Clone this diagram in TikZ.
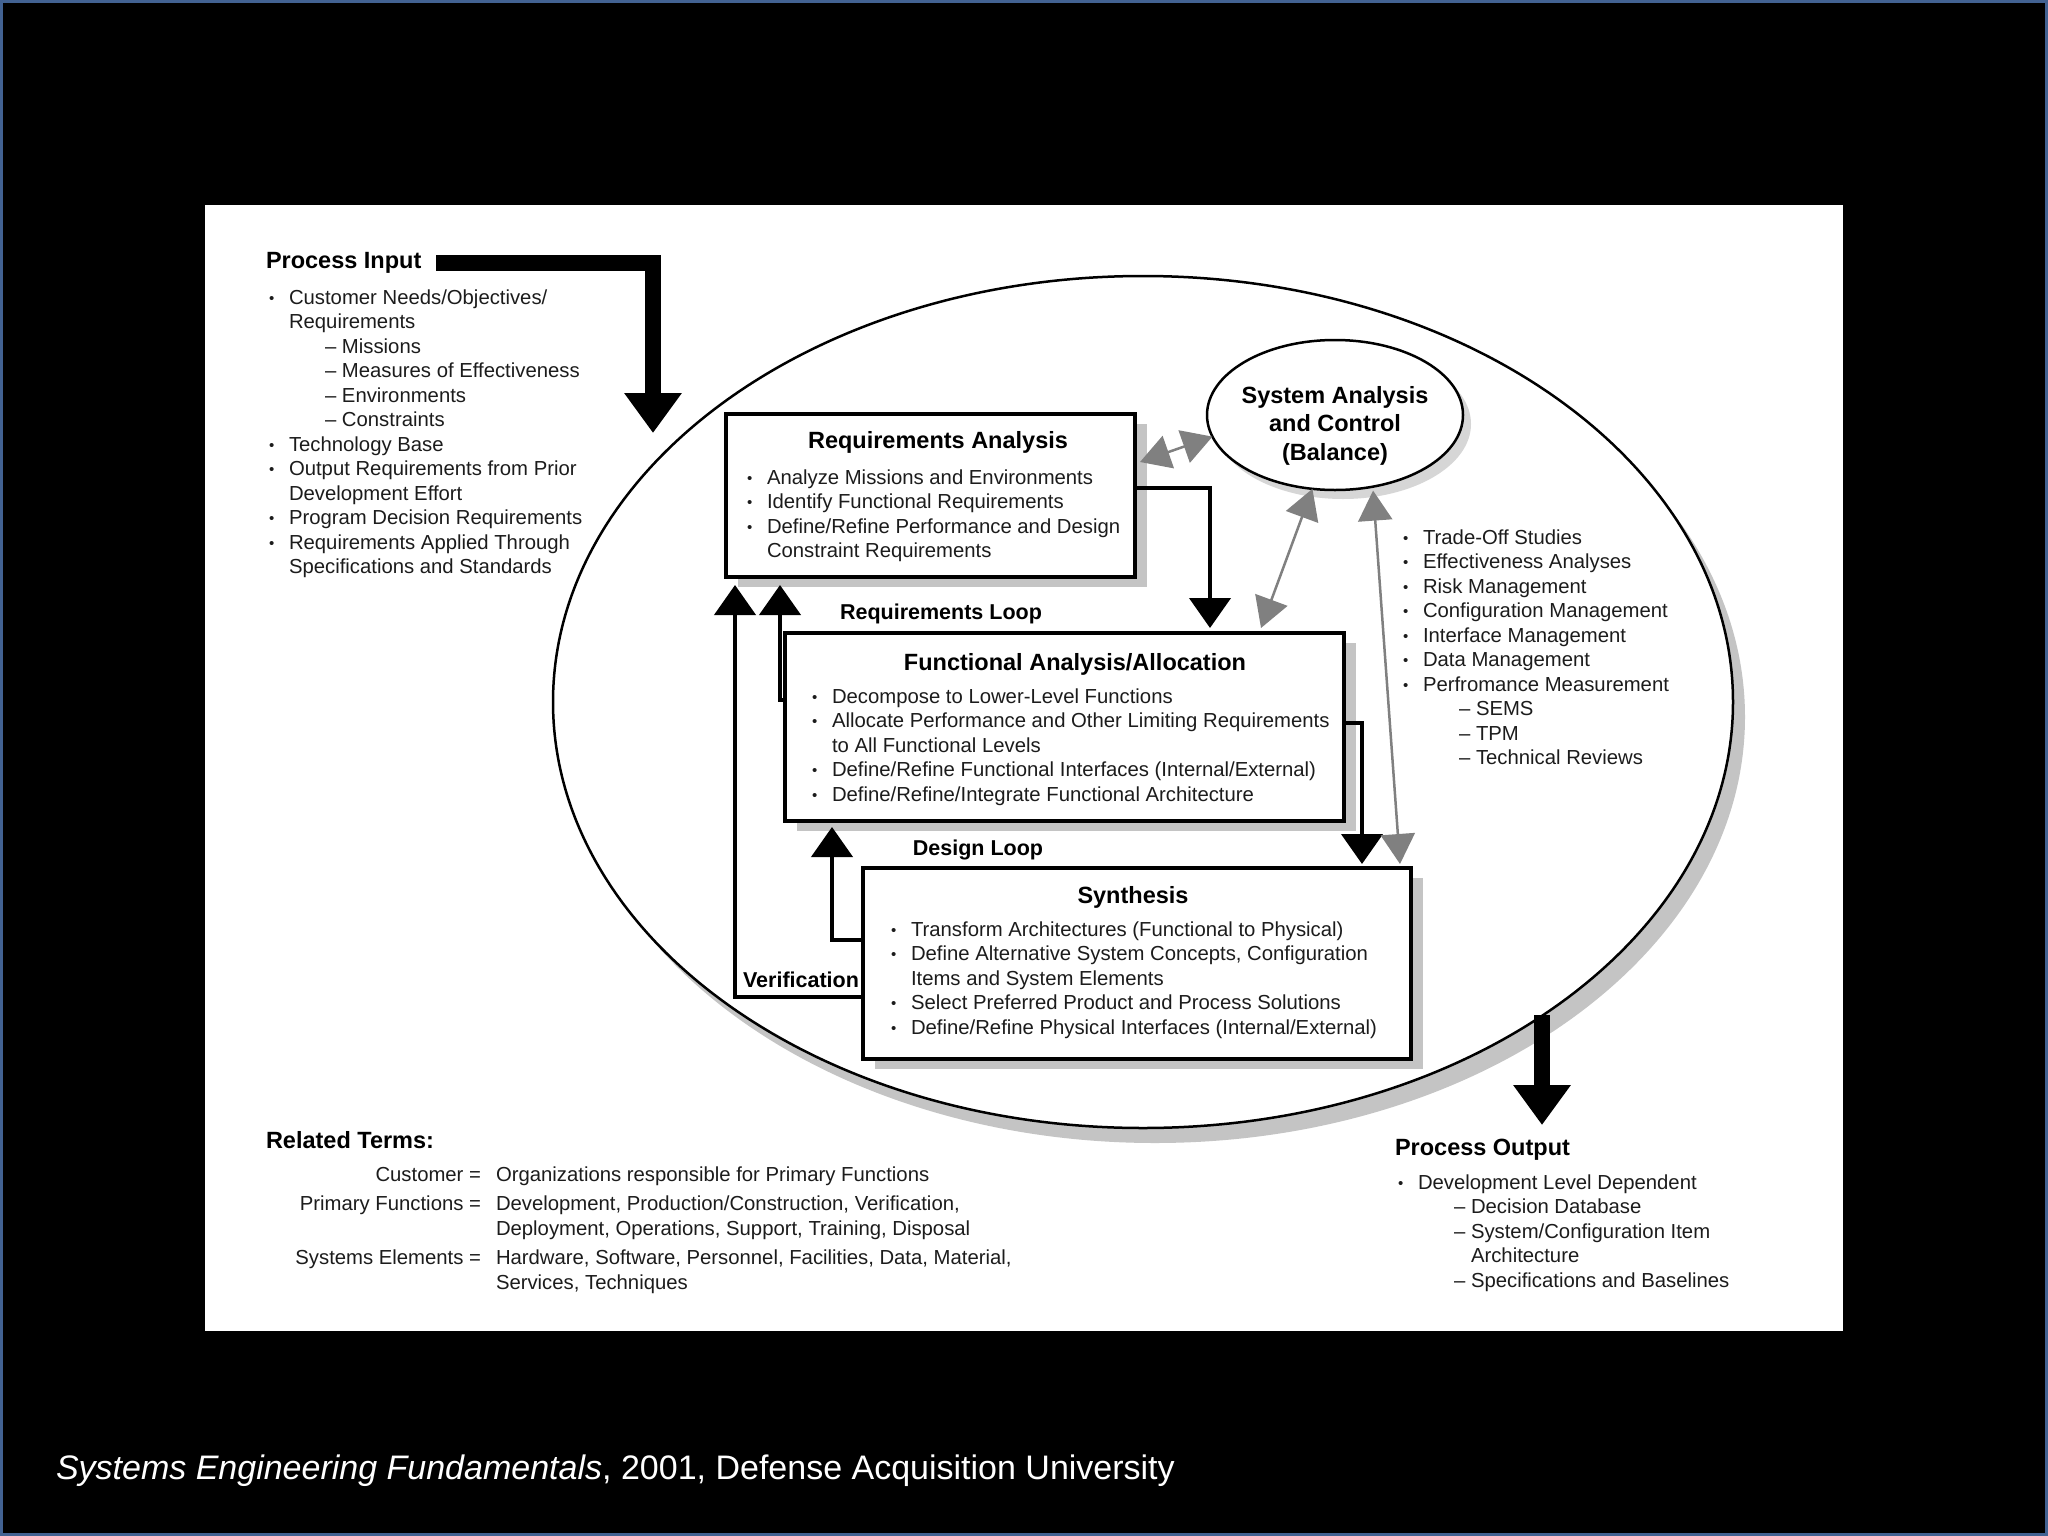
\documentclass[tikz,border=0pt]{standalone}
\usepackage{fontspec}
\setmainfont{Liberation Sans}
\usetikzlibrary{arrows.meta,calc,shapes.geometric,shadows}
\definecolor{slideblue}{RGB}{66,98,146}
\definecolor{txt}{RGB}{28,28,28}
\definecolor{arrgray}{RGB}{128,128,128}
\definecolor{shd}{RGB}{196,196,196}
\newcommand\fbody{\fontsize{20.3}{24.5}\selectfont}
\newcommand\fttl{\fontsize{23.5}{28.5}\selectfont\bfseries}
\newcommand\floop{\fontsize{21.5}{26}\selectfont\bfseries}
\newcommand\pbul{\makebox[20pt][l]{\raisebox{1.2pt}{\fontsize{15}{15}\selectfont •}}}
\newcommand\pcon{\hspace*{20pt}}
\newcommand\pdash{\hspace*{56pt}\makebox[17pt][l]{–}}
\newcommand\pdcon{\hspace*{73pt}}
\newcommand\fl{\rule{0pt}{17pt}}
\begin{document}
\begin{tikzpicture}[x=1pt,y=-1pt,
  every node/.style={inner sep=0pt,outer sep=0pt,text=txt},
  boxstyle/.style={draw=black,line width=4.3pt,fill=white,rectangle,
    drop shadow={shadow xshift=12pt,shadow yshift=-10pt,fill=shd,opacity=1}},
  bigell/.style={draw=black,line width=2.5pt,fill=white,ellipse,
    drop shadow={shadow xshift=12pt,shadow yshift=-15pt,fill=shd,opacity=1}},
  sysell/.style={draw=black,line width=2.5pt,fill=white,ellipse,
    drop shadow={shadow xshift=8pt,shadow yshift=-9pt,fill=shd!70,opacity=1}},
  ttl/.style={font=\fttl,text=black},
  looplbl/.style={font=\floop,text=black},
  bodylist/.style={font=\fbody,align=left,anchor=north west},
  blk/.style={draw=black,line width=4.3pt,line join=miter,-{Triangle[length=30pt,width=41pt]}},
  fat/.style={draw=black,line width=16pt,line join=miter,-{Triangle[length=40pt,width=55pt]}},
  gar/.style={draw=arrgray,line width=2.5pt,{Triangle[length=30pt,width=34pt]}-{Triangle[length=30pt,width=34pt]}}
]
\useasboundingbox (0,0) rectangle (2048,1536);
\fill[black] (0,0) rectangle (2048,1536);
\draw[slideblue,line width=3pt] (1.5,1.5) rectangle (2046.5,1534.5);
\fill[white] (205,205) rectangle (1843,1331);

% big ellipse
\node[bigell,minimum width=1180pt,minimum height=852pt] (big) at (1143,702) {};

% process input
\node[ttl,anchor=base west] (pin) at (266,268.4) {Process Input};
\node[bodylist] (pinl) at (269,287.2) {\fl\pbul Customer Needs/Objectives/\\
\pcon Requirements\\
\pdash Missions\\
\pdash Measures of Effectiveness\\
\pdash Environments\\
\pdash Constraints\\
\pbul Technology Base\\
\pbul Output Requirements from Prior\\
\pcon Development Effort\\
\pbul Program Decision Requirements\\
\pbul Requirements Applied Through\\
\pcon Specifications and Standards};
\coordinate (pintip) at (653,433);
\draw[fat] ([xshift=15pt,yshift=-0.5pt]pin.east) -| (pintip);

% system analysis ellipse
\node[sysell,minimum width=256pt,minimum height=150pt] (sa) at (1335,415) {};
\node[font=\fttl,text=black,align=center,anchor=north] (sat) at (1335,386.4) {\fl System Analysis\\and Control\\(Balance)};

% boxes
\node[boxstyle,minimum width=409pt,minimum height=163pt] (ra) at (930.5,495.5) {};
\node[ttl,anchor=base] (rat) at (938,448.4) {Requirements Analysis};
\node[bodylist] (ral) at (747,467.2) {\fl\pbul Analyze Missions and Environments\\
\pbul Identify Functional Requirements\\
\pbul Define/Refine Performance and Design\\
\pcon Constraint Requirements};

\node[boxstyle,minimum width=559pt,minimum height=188pt] (fa) at (1064.5,727) {};
\node[ttl,anchor=base] (fat) at (1075,670.4) {Functional Analysis/Allocation};
\node[bodylist] (fal) at (812,686.2) {\fl\pbul Decompose to Lower-Level Functions\\
\pbul Allocate Performance and Other Limiting Requirements\\
\pcon to All Functional Levels\\
\pbul Define/Refine Functional Interfaces (Internal/External)\\
\pbul Define/Refine/Integrate Functional Architecture};

\node[boxstyle,minimum width=548pt,minimum height=191pt] (sy) at (1137,963.5) {};
\node[ttl,anchor=base] (syt) at (1133,903.4) {Synthesis};
\node[bodylist] (syl) at (891,919.2) {\fl\pbul Transform Architectures (Functional to Physical)\\
\pbul Define Alternative System Concepts, Configuration\\
\pcon Items and System Elements\\
\pbul Select Preferred Product and Process Solutions\\
\pbul Define/Refine Physical Interfaces (Internal/External)};

% right list
\node[bodylist] (sal) at (1403,527.2) {\fl\pbul Trade-Off Studies\\
\pbul Effectiveness Analyses\\
\pbul Risk Management\\
\pbul Configuration Management\\
\pbul Interface Management\\
\pbul Data Management\\
\pbul Perfromance Measurement\\
\pdash SEMS\\
\pdash TPM\\
\pdash Technical Reviews};

% loop labels
\node[looplbl,anchor=base] (rloop) at (941,619.7) {Requirements Loop};
\node[looplbl,anchor=base] (dloop) at (978,855.7) {Design Loop};
\node[looplbl,anchor=base] (vloop) at (801,987.7) {Verification};

% black connectors
\draw[blk] ([yshift=7.5pt]ra.east) -| ([xshift=145.5pt,yshift=5pt]fa.north);
\draw[blk] ([yshift=4pt]fa.east) -| ([xshift=225pt,yshift=4pt]sy.north);
\draw[blk] ([yshift=27pt]fa.west) -| ([xshift=-150.5pt,yshift=-8pt]ra.south);
\draw[blk] ([yshift=-33.5pt]sy.west) -| ([xshift=-195.5pt,yshift=-8pt]ra.south);
\draw[blk] ([yshift=23.5pt]sy.west) -| ([xshift=-232.5pt,yshift=-6pt]fa.south);

% gray connectors
\draw[gar] ([xshift=5pt,yshift=33.5pt]ra.east) -- (sa.190);
\draw[gar] (sa.253) -- ([xshift=196.5pt,yshift=5pt]fa.north);
\draw[gar] ([yshift=-4pt]sa.298) -- ([xshift=263pt,yshift=4pt]sy.north);

% process output
\coordinate (pout1) at (1542,1015);
\coordinate (pout2) at (1542,1125);
\draw[fat] (pout1) -- (pout2);
\node[ttl,anchor=base west] (pot) at (1395,1155.4) {Process Output};
\node[bodylist] (pol) at (1398,1172.2) {\fl\pbul Development Level Dependent\\
\pdash Decision Database\\
\pdash System/Configuration Item\\
\pdcon Architecture\\
\pdash Specifications and Baselines};

% related terms
\node[ttl,anchor=base west] (rtt) at (266,1148.4) {Related Terms:};
\node[font=\fbody,align=right,anchor=north east] (rtterm) at (481,1164.2) {\fl Customer =\\[5pt]
Primary Functions =\\
\mbox{}\\[5pt]
Systems Elements =};
\node[bodylist] (rtdef) at (496,1164.2) {\fl Organizations responsible for Primary Functions\\[5pt]
Development, Production/Construction, Verification,\\
Deployment, Operations, Support, Training, Disposal\\[5pt]
Hardware, Software, Personnel, Facilities, Data, Material,\\
Services, Techniques};

% caption
\node[font=\fontsize{34}{40}\selectfont,text=white,anchor=base west] (cap) at (56,1479.6)
  {\textit{Systems Engineering Fundamentals}, 2001, Defense Acquisition University};
\end{tikzpicture}
\end{document}
